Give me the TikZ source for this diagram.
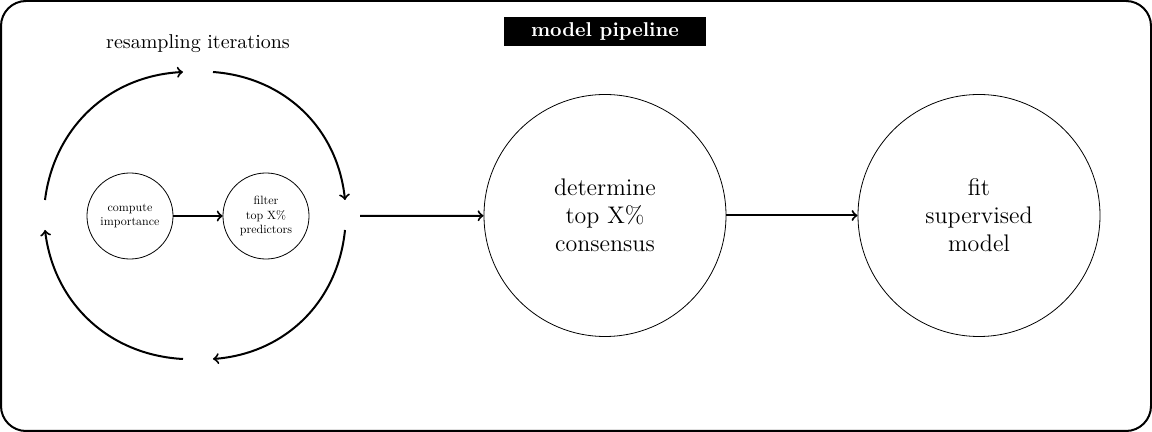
\documentclass[tikz,border=0pt]{standalone}
\usepackage{tikz}

\begin{document}
\begin{tikzpicture}[x=0.5pt,y=-0.5pt,
  flow/.style={->,line width=1pt},
  loop/.style={->,line width=1pt},
  smallstep/.style={circle,draw,thin,scale=0.6,minimum size=71.7pt,inner sep=0pt,align=center},
  bigstep/.style={circle,draw,thin,minimum size=121pt,inner sep=0pt,align=center,font=\large},
  title/.style={fill=black,text=white,font=\bfseries,minimum width=101pt,minimum height=14.5pt,inner sep=0pt}]
  \useasboundingbox (0,0) rectangle (1152,432);
  \draw[line width=1pt,rounded corners=12.5pt] (1,1) rectangle (1151,431);
  \node[title] (pipeline) at (605,31.5) {model pipeline};

  \node (resampling) at (198,44) {resampling iterations};
  \coordinate (l1) at (45,200);
  \coordinate (t1) at (183,72);
  \coordinate (t2) at (213,72);
  \coordinate (r1) at (345,200);
  \coordinate (r2) at (345,230);
  \coordinate (b1) at (213,359);
  \coordinate (b2) at (183,359);
  \coordinate (l2) at (45,230);
  \draw[loop] (l1) to[bend left=40] (t1);
  \draw[loop] (t2) to[bend left=40] (r1);
  \draw[loop] (r2) to[bend left=40] (b1);
  \draw[loop] (b2) to[bend left=40] (l2);

  \node[smallstep] (compute) at (130,216) {compute\\importance};
  \node[smallstep] (filter) at (266,216) {filter\\top X\%\\predictors};
  \draw[flow] (compute) -- (filter);

  \coordinate (cycleout) at (360,216);
  \node[bigstep] (consensus) at (605,215.5) {determine\\top X\%\\consensus};
  \node[bigstep] (fit) at (979,215.5) {fit\\supervised\\model};
  \draw[flow] (cycleout) -- (consensus);
  \draw[flow] (consensus) -- (fit);
\end{tikzpicture}
\end{document}
